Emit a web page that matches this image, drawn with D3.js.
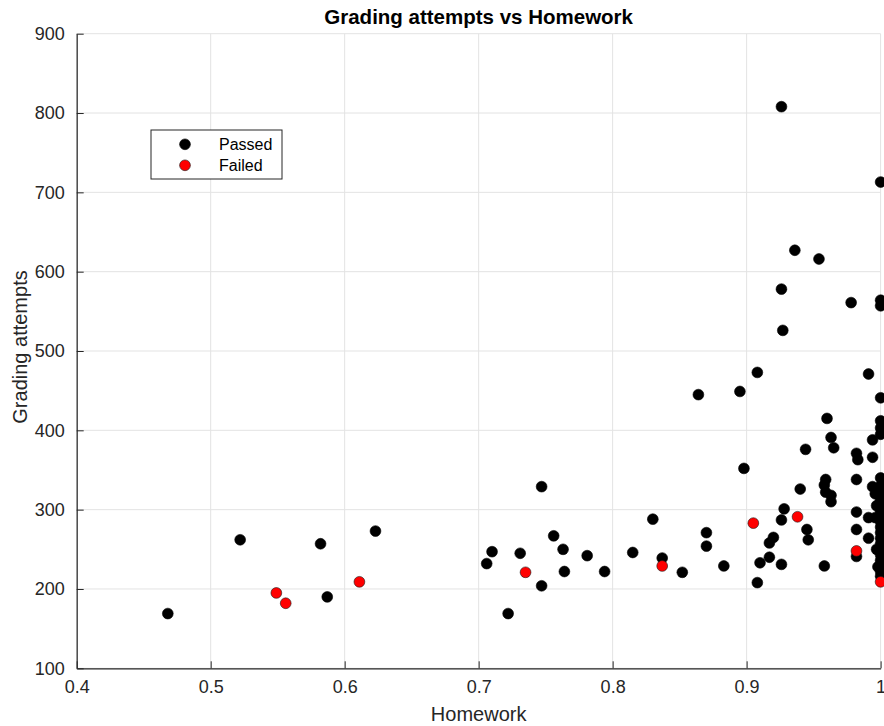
<!DOCTYPE html>
<html>
<head>
<meta charset="utf-8">
<script src="https://cdn.jsdelivr.net/npm/d3@7"></script>
<style>
  body { margin: 0; background: #ffffff; }
  svg { display: block; font-family: "Liberation Sans", Arial, Helvetica, sans-serif; }
</style>
</head>
<body>
<div id="scatter"></div>
<script>
// Homework score and grading attempts of the students who passed:
var passedHomework = [
  0.468, 0.522, 0.582, 0.587, 0.623,
  0.706, 0.710, 0.722, 0.731, 0.747, 0.747, 0.756, 0.763, 0.764, 0.781, 0.794,
  0.815, 0.830, 0.837, 0.852, 0.864, 0.870, 0.870, 0.883,
  0.895, 0.898, 0.908, 0.908, 0.910, 0.917, 0.917, 0.920, 0.926, 0.926, 0.927,
  0.926, 0.926, 0.928, 0.936, 0.940, 0.944, 0.945, 0.946, 0.954, 0.958, 0.958,
  0.959, 0.959, 0.960, 0.963, 0.963, 0.963, 0.965, 0.978, 0.982, 0.983, 0.982,
  0.982, 0.982, 0.982, 0.991, 0.991, 0.991, 0.994, 0.994, 0.994,
  0.996, 0.997, 0.996, 0.997, 0.998,
  1, 1, 1, 1, 1, 1, 1, 1, 1, 1, 1, 1, 1, 1, 1, 1, 1, 1, 1, 1, 1, 1, 1, 1, 1, 1
];
var passedAttempts = [
  169, 262, 257, 190, 273,
  232, 247, 169, 245, 204, 329, 267, 250, 222, 242, 222,
  246, 288, 239, 221, 445, 271, 254, 229,
  449, 352, 473, 208, 233, 240, 258, 265, 808, 578, 526,
  231, 287, 301, 627, 326, 376, 275, 262, 616, 229, 331,
  322, 338, 415, 318, 310, 391, 378, 561, 371, 363, 338,
  297, 275, 241, 471, 290, 264, 388, 366, 329,
  320, 305, 290, 250, 228,
  713, 564, 557, 441, 412, 403, 395, 340, 330, 324, 318, 312, 305, 298, 292,
  285, 278, 271, 264, 257, 250, 243, 236, 229, 222, 216
];

// Homework score and grading attempts of the students who failed:
var failedHomework = [0.549, 0.556, 0.611, 0.735, 0.837, 0.905, 0.938, 0.982, 1];
var failedAttempts = [195, 182, 209, 221, 229, 283, 291, 248, 209];

// Tick values for both axes:
var xTicks = [0.4, 0.5, 0.6, 0.7, 0.8, 0.9, 1];
var yTicks = [100, 200, 300, 400, 500, 600, 700, 800, 900];

// Legend entries:
var legendNames = ['Passed', 'Failed'];
var legendColors = ['#000000', '#ff0000'];

// SVG area and margins:
var svgWidth = 884;
var svgHeight = 726;
var chartMargin = { top: 33.7, right: 3.4, bottom: 57.7, left: 76.7 };
var chartWidth = svgWidth - chartMargin.left - chartMargin.right;
var chartHeight = svgHeight - chartMargin.top - chartMargin.bottom;

var axisColor = '#262626';
var gridColor = '#e3e3e3';

var svg = d3.select('#scatter')
  .append('svg')
  .attr('width', svgWidth)
  .attr('height', svgHeight);

var chartGroup = svg.append('g')
  .attr('transform', `translate(${chartMargin.left}, ${chartMargin.top})`);

// Scales:
var xScale = d3.scaleLinear().domain([0.4, 1]).range([0, chartWidth]);
var yScale = d3.scaleLinear().domain([100, 900]).range([chartHeight, 0]);

// Grid lines:
chartGroup.append('g')
  .selectAll('line')
  .data(xTicks)
  .enter()
  .append('line')
  .attr('x1', d => xScale(d)).attr('x2', d => xScale(d))
  .attr('y1', 0).attr('y2', chartHeight)
  .attr('stroke', gridColor)
  .attr('stroke-width', 1);

chartGroup.append('g')
  .selectAll('line')
  .data(yTicks)
  .enter()
  .append('line')
  .attr('x1', 0).attr('x2', chartWidth)
  .attr('y1', d => yScale(d)).attr('y2', d => yScale(d))
  .attr('stroke', gridColor)
  .attr('stroke-width', 1);

// Axes, with ticks pointing inside the plot like MATLAB:
var xAxis = d3.axisBottom(xScale)
  .tickValues(xTicks)
  .tickFormat(d => d === 1 ? '1' : d3.format('.1f')(d))
  .tickSizeInner(-7)
  .tickSizeOuter(0)
  .tickPadding(12);

var yAxis = d3.axisLeft(yScale)
  .tickValues(yTicks)
  .tickSizeInner(-7)
  .tickSizeOuter(0)
  .tickPadding(12);

var xAxisGroup = chartGroup.append('g')
  .attr('transform', `translate(0, ${chartHeight})`)
  .call(xAxis);

var yAxisGroup = chartGroup.append('g')
  .call(yAxis);

[xAxisGroup, yAxisGroup].forEach(function(g) {
  g.select('.domain').attr('stroke', axisColor).attr('stroke-width', 1.2);
  g.selectAll('.tick line').attr('stroke', axisColor).attr('stroke-width', 1);
  g.selectAll('.tick text')
    .attr('fill', axisColor)
    .style('font-size', '18px')
    .style('font-family', '"Liberation Sans", Arial, sans-serif');
});

// Points, passed first and failed on top:
var passedData = passedHomework.map((d, i) => ({ hw: d, att: passedAttempts[i] }));
var failedData = failedHomework.map((d, i) => ({ hw: d, att: failedAttempts[i] }));

chartGroup.append('g')
  .selectAll('circle')
  .data(passedData)
  .enter()
  .append('circle')
  .attr('cx', d => xScale(d.hw))
  .attr('cy', d => yScale(d.att))
  .attr('r', 5.4)
  .attr('fill', '#000000')
  .attr('stroke', '#000000')
  .attr('stroke-width', 0.6);

chartGroup.append('g')
  .selectAll('circle')
  .data(failedData)
  .enter()
  .append('circle')
  .attr('cx', d => xScale(d.hw))
  .attr('cy', d => yScale(d.att))
  .attr('r', 5.4)
  .attr('fill', '#ff0000')
  .attr('stroke', '#1a1a1a')
  .attr('stroke-width', 0.6);

// Title and axis labels:
svg.append('text')
  .attr('x', chartMargin.left + chartWidth / 2)
  .attr('y', 24)
  .attr('text-anchor', 'middle')
  .attr('fill', '#000000')
  .style('font-size', '20.5px')
  .style('font-weight', 'bold')
  .text('Grading attempts vs Homework');

svg.append('text')
  .attr('x', chartMargin.left + chartWidth / 2)
  .attr('y', 721)
  .attr('text-anchor', 'middle')
  .attr('fill', axisColor)
  .style('font-size', '20px')
  .text('Homework');

svg.append('text')
  .attr('transform', 'translate(27, 347) rotate(-90)')
  .attr('text-anchor', 'middle')
  .attr('fill', axisColor)
  .style('font-size', '20px')
  .text('Grading attempts');

// Legend box:
var legend = svg.append('g').attr('transform', 'translate(151, 130)');

legend.append('rect')
  .attr('width', 131)
  .attr('height', 49)
  .attr('fill', '#ffffff')
  .attr('stroke', axisColor)
  .attr('stroke-width', 1);

var legendRows = legend.selectAll('g.row')
  .data(legendNames)
  .enter()
  .append('g')
  .attr('class', 'row')
  .attr('transform', (d, i) => `translate(0, ${14.3 + i * 21})`);

legendRows.append('circle')
  .attr('cx', 34)
  .attr('cy', 0)
  .attr('r', 5.4)
  .attr('fill', (d, i) => legendColors[i])
  .attr('stroke', (d, i) => i === 0 ? '#000000' : '#1a1a1a')
  .attr('stroke-width', 0.6);

legendRows.append('text')
  .attr('x', 68)
  .attr('y', 0)
  .attr('dy', '0.35em')
  .attr('fill', '#000000')
  .style('font-size', '16px')
  .text(d => d);
</script>
</body>
</html>
